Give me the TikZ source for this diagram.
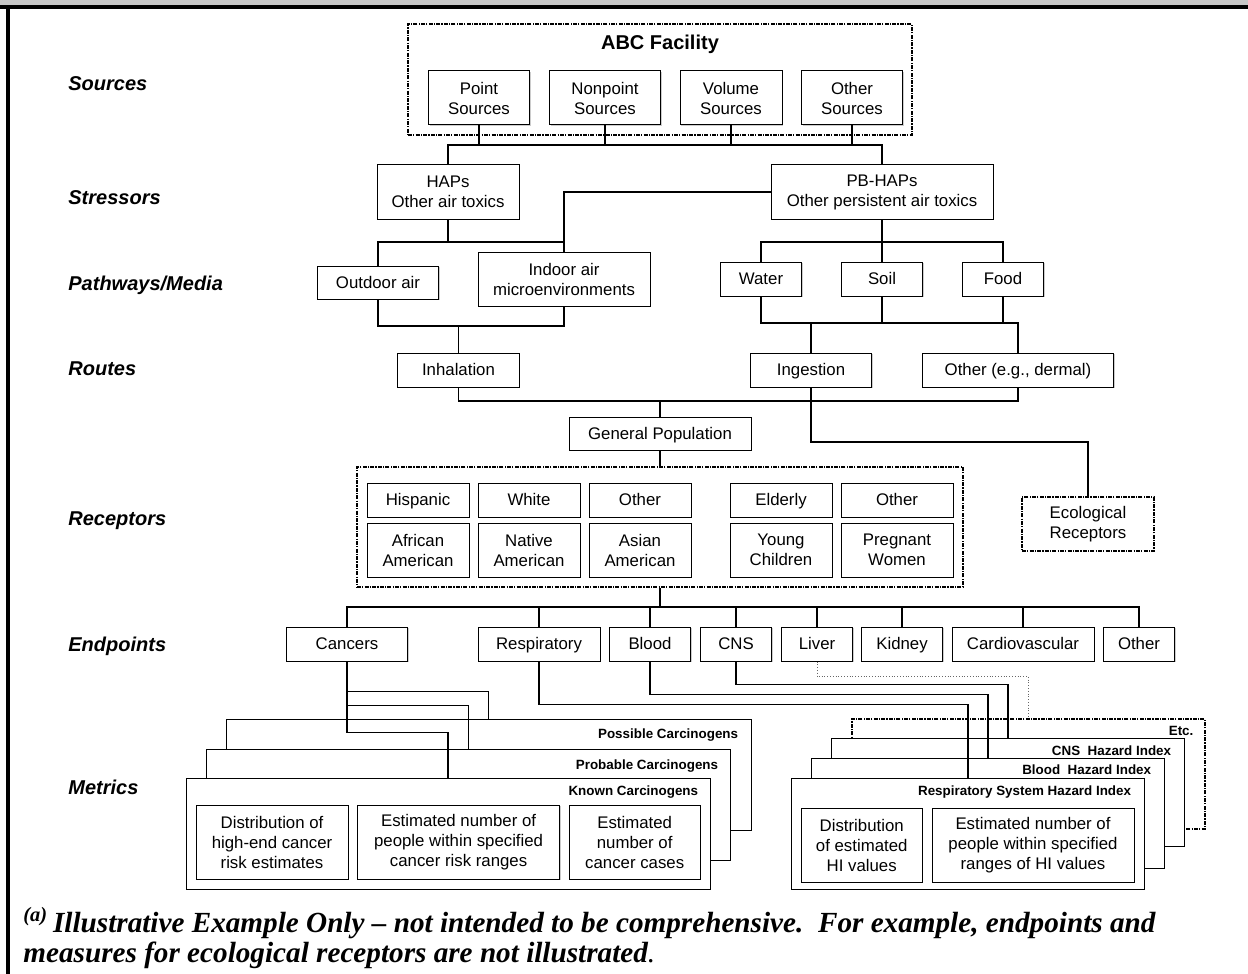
\documentclass[tikz,border=0pt]{standalone}
\usepackage{fontspec}
\setmainfont{Liberation Serif}
\setsansfont{Liberation Sans}
\usetikzlibrary{shadows}
\tikzset{
  basic/.style  = {draw, rectangle, align=center, inner sep=0pt, line width=0.5pt, fill=white,
                   font=\sffamily\fontsize{8.4}{10}\selectfont},
  box/.style    = {basic, drop shadow={shadow xshift=0.5pt, shadow yshift=-0.5pt, fill=black!40}},
  one/.style    = {box, text height=7.6pt, text depth=1.8pt},
  group/.style  = {draw, rectangle, inner sep=0pt, line width=0.8pt,
                   dash pattern=on 2pt off 0.6pt on 0.6pt off 0.6pt},
  stackbox/.style = {basic, fill=white},
  stacklbl/.style = {anchor=east, inner sep=0pt, font=\sffamily\bfseries\fontsize{6.7}{8}\selectfont},
  rowlbl/.style = {anchor=west, inner sep=0pt, font=\sffamily\bfseries\itshape\fontsize{10}{12}\selectfont},
  conn/.style   = {draw, line width=0.6pt},
  bus/.style    = {draw, line width=0.9pt},
  captxt/.style = {anchor=base west, inner sep=0pt, font=\rmfamily\bfseries\itshape\fontsize{14.6}{16}\selectfont}
}

\begin{document}
\begin{tikzpicture}[x=0.5pt, y=-0.5pt]
\useasboundingbox (0,0) rectangle (1248,974);
% frame
\fill[black!22] (0,0) rectangle (1248,6);
\draw[line width=2pt] (0,7) -- (1248,7);
\draw[line width=2pt] (8,7) -- (8,974);

% row labels
\node[rowlbl] (lsrc)  at (68,84)  {Sources};
\node[rowlbl] (lstr)  at (68,198) {Stressors};
\node[rowlbl] (lpath) at (68,285) {Pathways/Media};
\node[rowlbl] (lrte)  at (68,369) {Routes};
\node[rowlbl] (lrec)  at (68,521) {Receptors};
\node[rowlbl] (lend)  at (68,646) {Endpoints};
\node[rowlbl] (lmet)  at (68,787) {Metrics};

% sources
\node[group, minimum width=252pt, minimum height=55.5pt] (abc) at (660,79.5) {};
\node[inner sep=0pt, font=\sffamily\bfseries\fontsize{10}{12}\selectfont] (abct) at (660,44) {ABC Facility};
\node[box, minimum width=50.5pt, minimum height=27pt] (point)    at (479,98) {Point\\Sources};
\node[box, minimum width=55.5pt, minimum height=27pt] (nonpoint) at (605,98) {Nonpoint\\Sources};
\node[box, minimum width=51pt,   minimum height=27pt] (volume)   at (731,98) {Volume\\Sources};
\node[box, minimum width=50.5pt, minimum height=27pt] (osrc)     at (852,98) {Other\\Sources};

% stressors
\node[box, minimum width=71pt,  minimum height=27pt] (haps)   at (448,192) {HAPs\\Other air toxics};
\node[box, minimum width=111pt, minimum height=27pt] (pbhaps) at (882,192) {PB-HAPs\\Other persistent air toxics};

% pathways / media
\node[one, minimum width=60.75pt, minimum height=16.5pt] (outdoor) at (378,282.5) {Outdoor air};
\node[box, minimum width=86pt,    minimum height=27pt]   (indoor)  at (564,279) {Indoor air\\microenvironments};
\node[one, minimum width=40.75pt, minimum height=17pt]   (water)   at (761,279) {Water};
\node[one, minimum width=40.5pt,  minimum height=17pt]   (soil)    at (882,279) {Soil};
\node[one, minimum width=40.5pt,  minimum height=17pt]   (food)    at (1003,279) {Food};

% routes
\node[one, minimum width=60.75pt, minimum height=17pt] (inhal)   at (458.5,370) {Inhalation};
\node[one, minimum width=60.75pt, minimum height=17pt] (ingest)  at (811,370) {Ingestion};
\node[one, minimum width=95.75pt, minimum height=17pt] (odermal) at (1018,370) {Other (e.g., dermal)};

% receptors
\node[one, minimum width=91pt, minimum height=16.5pt] (genpop) at (660,433.5) {General Population};
\node[group, minimum width=303pt, minimum height=60pt] (recgrp) at (660,527) {};
\node[group, basic, minimum width=66pt, minimum height=27pt, line width=0.8pt,
      dash pattern=on 2pt off 0.6pt on 0.6pt off 0.6pt] (ecol) at (1088,524) {Ecological\\Receptors};
\node[one, minimum width=51pt, minimum height=17pt] (hisp)   at (418,500) {Hispanic};
\node[one, minimum width=51pt, minimum height=17pt] (white)  at (529,500) {White};
\node[one, minimum width=51pt, minimum height=17pt] (oeth)   at (640,500) {Other};
\node[one, minimum width=51pt, minimum height=17pt] (elder)  at (781,500) {Elderly};
\node[one, minimum width=56pt, minimum height=17pt] (oage)   at (897,500) {Other};
\node[box, minimum width=51pt, minimum height=27pt] (afam)   at (418,550) {African\\American};
\node[box, minimum width=51pt, minimum height=27pt] (native) at (529,550) {Native\\American};
\node[box, minimum width=51pt, minimum height=27pt] (asian)  at (640,550) {Asian\\American};
\node[box, minimum width=51pt, minimum height=27pt] (young)  at (781,550) {Young\\Children};
\node[box, minimum width=56pt, minimum height=27pt] (preg)   at (897,550) {Pregnant\\Women};

% endpoints
\node[one, minimum width=60.75pt, minimum height=17pt] (cancers) at (347,644) {Cancers};
\node[one, minimum width=61pt,    minimum height=17pt] (resp)    at (539,644) {Respiratory};
\node[one, minimum width=40.75pt, minimum height=17pt] (blood)   at (650,644) {Blood};
\node[one, minimum width=35.8pt,  minimum height=17pt] (cns)     at (736,644) {CNS};
\node[one, minimum width=35.5pt,  minimum height=17pt] (liver)   at (817,644) {Liver};
\node[one, minimum width=40.5pt,  minimum height=17pt] (kidney)  at (902,644) {Kidney};
\node[one, minimum width=71pt,    minimum height=17pt] (cardio)  at (1023,644) {Cardiovascular};
\node[one, minimum width=35.5pt,  minimum height=17pt] (oend)    at (1139,644) {Other};

% metrics: cancer stack
\node[stackbox, minimum width=262.5pt, minimum height=55.5pt] (possible) at (488.5,774.5) {};
\node[stacklbl] (possiblet) at ([shift={(-13,17)}]possible.north east) {Possible Carcinogens};
\node[stackbox, minimum width=262pt, minimum height=55.5pt] (probable) at (468.5,804.5) {};
\node[stacklbl] (probablet) at ([shift={(-12.5,18)}]probable.north east) {Probable Carcinogens};
\node[stackbox, minimum width=262pt, minimum height=55.5pt] (known) at (448,833.5) {};
\node[stacklbl] (knownt) at ([shift={(-12,15)}]known.north east) {Known Carcinogens};
\node[box, minimum width=76pt,   minimum height=37pt] (cdist)  at (272,842)   {Distribution of\\high-end cancer\\risk estimates};
\node[box, minimum width=101pt,  minimum height=37pt] (cpeop)  at (458.6,842) {Estimated number of\\people within specified\\cancer risk ranges};
\node[box, minimum width=65.7pt, minimum height=37pt] (ccases) at (634.7,842) {Estimated\\number of\\cancer cases};

% metrics: hazard index stack
\node[group, fill=white, minimum width=176.5pt, minimum height=55pt] (etc) at (1028.5,774) {};
\node[stacklbl] (etct) at ([shift={(-12,13)}]etc.north east) {Etc.};
\node[stackbox, minimum width=176.5pt, minimum height=54pt] (chi) at (1008,792) {};
\node[stacklbl] (chit) at ([shift={(-13.5,13)}]chi.north east) {CNS~ Hazard Index};
\node[stackbox, minimum width=176.5pt, minimum height=55pt] (bhi) at (988,813) {};
\node[stacklbl] (bhit) at ([shift={(-13.5,12)}]bhi.north east) {Blood~ Hazard Index};
\node[stackbox, minimum width=176.5pt, minimum height=55.5pt] (rhi) at (968,833.5) {};
\node[stacklbl] (rhit) at ([shift={(-13.5,15)}]rhi.north east) {Respiratory System Hazard Index};
\node[box, minimum width=60.7pt, minimum height=37pt] (hdist) at (861.7,845) {Distribution\\of estimated\\HI values};
\node[box, minimum width=101pt,  minimum height=37pt] (hpeop) at (1033,845)  {Estimated number of\\people within specified\\ranges of HI values};

% connectors
\coordinate (srcbus) at (0,145);
\coordinate (medbus) at (0,242);
\coordinate (airbus) at (0,326);
\coordinate (wetbus) at (0,323);
\coordinate (popbus) at (0,401);
\coordinate (ecobus) at (0,442);
\coordinate (endbus) at (0,607);

\draw[bus] (haps.north) |- (pbhaps.north |- srcbus) -- (pbhaps.north);
\foreach \n in {point,nonpoint,volume,osrc}
  \draw[conn] (\n.south) -- (\n.south |- srcbus);

\draw[conn] (haps.south) -- (haps.south |- medbus);
\draw[conn] (outdoor.north) |- (indoor.north |- medbus);
\draw[conn] (pbhaps.west) -| (indoor.north);
\draw[bus] (pbhaps.south) -- (pbhaps.south |- medbus);
\draw[conn] (water.north) |- (food.north |- medbus) -- (food.north);
\draw[conn] (soil.north) -- (soil.north |- medbus);

\draw[conn] (outdoor.south) |- (indoor.south |- airbus) -- (indoor.south);
\draw[conn] (inhal.north) -- (inhal.north |- airbus);
\draw[bus] (water.south) |- (odermal.north |- wetbus) -- (odermal.north);
\foreach \n in {soil,food}
  \draw[conn] (\n.south) -- (\n.south |- wetbus);
\draw[conn] (ingest.north) -- (ingest.north |- wetbus);

\draw[conn] (inhal.south) |- (odermal.south |- popbus) -- (odermal.south);
\draw[bus] (genpop.north) -- (genpop.north |- popbus);
\draw[conn] (ingest.south) |- (ecol.north |- ecobus) -- (ecol.north);
\draw[conn] (genpop.south) -- (genpop.south |- recgrp.north);

\draw[bus] (genpop.south |- recgrp.south) -- (genpop.south |- endbus);
\draw[conn] (cancers.north) |- (oend.north |- endbus) -- (oend.north);
\foreach \n in {resp,blood,cns,liver,kidney,cardio}
  \draw[conn] (\n.north) -- (\n.north |- endbus);

\draw[conn] (cancers.south) -- ++(0,71) -| (known.north);
\draw[conn] (cancers.south) ++(0,44) -| (probable.north);
\draw[conn] (cancers.south) ++(0,30) -| (possible.north);
\draw[conn] (resp.south) -- ++(0,43) -| (rhi.north);
\draw[conn] (blood.south) -- ++(0,33) -| (bhi.north);
\draw[conn] (cns.south) -- ++(0,23) -| (chi.north);
\draw[line width=0.4pt, densely dotted, black!60] (liver.south) -- ++(0,15) -| (etc.north);

% caption
\node[captxt] (cap1) at (23,932) {\textsuperscript{(a)}\,Illustrative Example Only -- not intended to be comprehensive.\ \ For example, endpoints and};
\node[captxt] (cap2) at (23,962) {measures for ecological receptors are not illustrated{\mdseries .}};
\end{tikzpicture}
\end{document}
